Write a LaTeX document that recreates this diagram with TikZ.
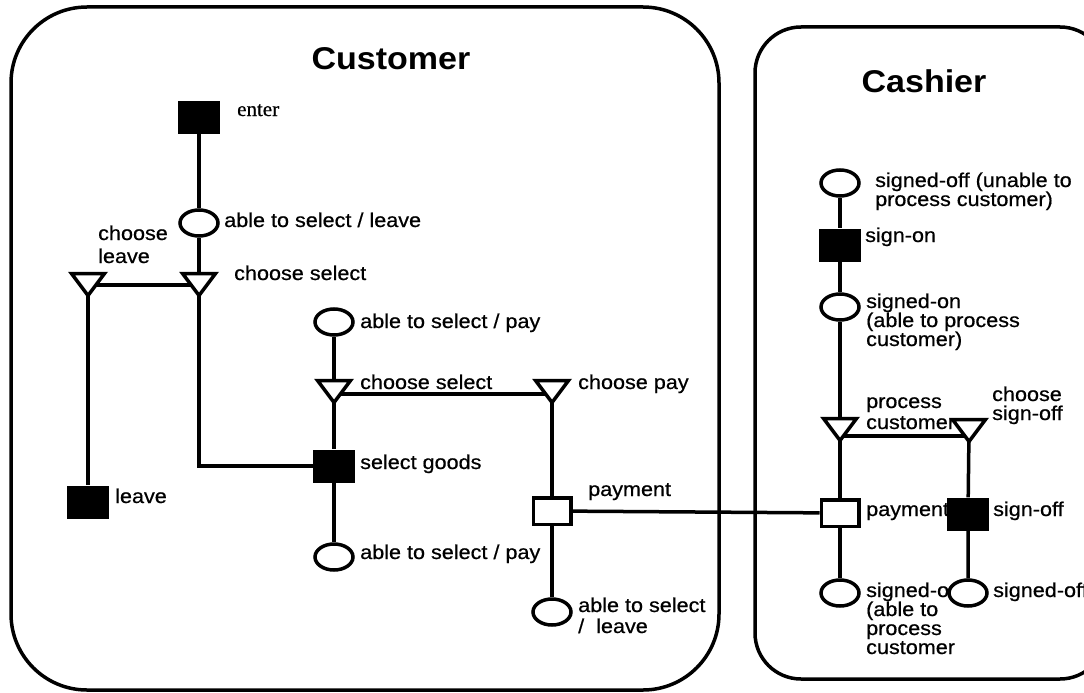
\documentclass[tikz,border=0pt]{standalone}
\usepackage{fontspec}
\setmainfont{Liberation Sans}[FakeStretch=1.08,FakeBold=0.6]
\newfontfamily\serifface{Liberation Serif}[FakeBold=0.6]
\newfontfamily\titleface{Liberation Sans Bold}[FakeStretch=1.08]
\usetikzlibrary{shapes.geometric,calc}
\pgfdeclarelayer{background}
\pgfsetlayers{background,main}

% open triangle (choice) centred on a named coordinate
\newcommand\choicetri[1]{%
  \draw[tri] ($(#1)+(-16.5,-11.5)$) -- ($(#1)+(16.5,-11.5)$) -- ($(#1)+(0,10.5)$) -- cycle;}

\begin{document}
\begin{tikzpicture}[x=1pt,y=-1pt,
  pane/.style={line width=3.5pt},
  link/.style={line width=3.5pt},
  % labels are placed by the baseline of their last line
  lbl/.style={anchor=base west,inner sep=0pt,align=left,font=\fontsize{20}{19}\selectfont},
  ttl/.style={inner sep=0pt,font=\fontsize{31.5}{32}\titleface},
  place/.style={ellipse,draw,fill=white,line width=3.5pt,minimum width=38pt,minimum height=26pt,inner sep=0pt},
  act/.style={rectangle,fill=black,minimum width=42pt,minimum height=33pt,inner sep=0pt},
  msg/.style={rectangle,draw,fill=white,line width=3.5pt,minimum width=37.5pt,minimum height=26.5pt,inner sep=0pt},
  tri/.style={draw,fill=white,line width=3.5pt,line join=miter}
]
\useasboundingbox (0,0) rectangle (1084,693);

% swimlanes
\draw[pane,rounded corners=76pt] (11,7) rectangle (719,690);
\draw[pane,rounded corners=46pt] (755,27) rectangle (1106,679);
\node[ttl] (tcust) at (391,59) {Customer};
\node[ttl] (tcash) at (924,81) {Cashier};

% labels
\node[lbl,font=\fontsize{21}{21}\serifface] (lenter) at (237,116) {enter};
\node[lbl] (lasl1) at (224,227) {able to select / leave};
\node[lbl,font=\fontsize{20}{23}\selectfont] (lcl) at (98,263) {choose\\leave};
\node[lbl] (lcs1) at (234,280) {choose select};
\node[lbl] (lasp1) at (360,328) {able to select / pay};
\node[lbl] (lcs2) at (360,389) {choose select};
\node[lbl] (lcp) at (578,389) {choose pay};
\node[lbl] (lsg) at (360,469) {select goods};
\node[lbl] (lleave) at (115,503) {leave};
\node[lbl] (lpay1) at (588,496) {payment};
\node[lbl] (lasp2) at (360,559) {able to select / pay};
\node[lbl,font=\fontsize{20}{21}\selectfont] (lasl2) at (578,633) {able to select\\/\ \ leave};
\node[lbl] (lso1) at (875,206) {signed-off (unable to\\process customer)};
\node[lbl] (lsignon) at (865,242) {sign-on};
\node[lbl] (lsignedon) at (866,346) {signed-on\\(able to process\\customer)};
\node[lbl,font=\fontsize{20}{21}\selectfont] (lpc) at (866,429) {process\\customer};
\node[lbl] (lcso) at (992,420) {choose\\sign-off};
\node[lbl] (lpay2) at (866,516) {payment};
\node[lbl] (lsignoff) at (993,516) {sign-off};
\node[lbl] (lsob) at (866,654) {signed-on\\(able to\\process\\customer};
\node[lbl] (lsoff) at (993,597) {signed-off};

% customer net
\node[act] (enter) at (199,117) {};
\node[place] (asl1) at (199,223) {};
\coordinate (cl) at (88,285);
\coordinate (cs1) at (199,285);
\node[act] (leave) at (88,502) {};
\node[place] (asp1) at (334,322) {};
\coordinate (cs2) at (334,392);
\coordinate (cp) at (552,392);
\node[act] (sg) at (334,466) {};
\node[place] (asp2) at (334,557) {};
\node[msg] (pay1) at (552,511) {};
\node[place] (asl2) at (552,612) {};

% cashier net
\node[place] (so1) at (840,183) {};
\node[act] (signon) at (840,245) {};
\node[place] (signedon) at (840,307) {};
\coordinate (pc) at (840,430);
\coordinate (cso) at (969,431);
\node[msg] (pay2) at (840,513) {};
\node[act] (signoff) at (968,514) {};
\node[place] (sob) at (840,593) {};
\node[place] (soff) at (968,593) {};

\choicetri{cl}
\choicetri{cs1}
\choicetri{cs2}
\choicetri{cp}
\choicetri{pc}
\choicetri{cso}

% arcs
\begin{pgfonlayer}{background}
\draw[link] (enter) -- (asl1) -- (cs1);
\draw[link] (cl) -- (cs1);
\draw[link] (cl) -- (leave);
\draw[link] (cs1) |- (sg);
\draw[link] (asp1) -- (cs2) -- (sg) -- (asp2);
\draw[link] ([yshift=-2pt]cs2) -- ([yshift=-2pt]cp);
\draw[link] (cp) -- (pay1) -- (asl2);
\draw[link] (pay1) -- (pay2);
\draw[link] (so1) -- (signon) -- (signedon) -- (pc) -- (pay2) -- (sob);
\draw[link] ([yshift=-6pt]pc) -- ([yshift=-5pt]cso);
\draw[link] (cso) -- (signoff) -- (soff);
\end{pgfonlayer}
\end{tikzpicture}
\end{document}
